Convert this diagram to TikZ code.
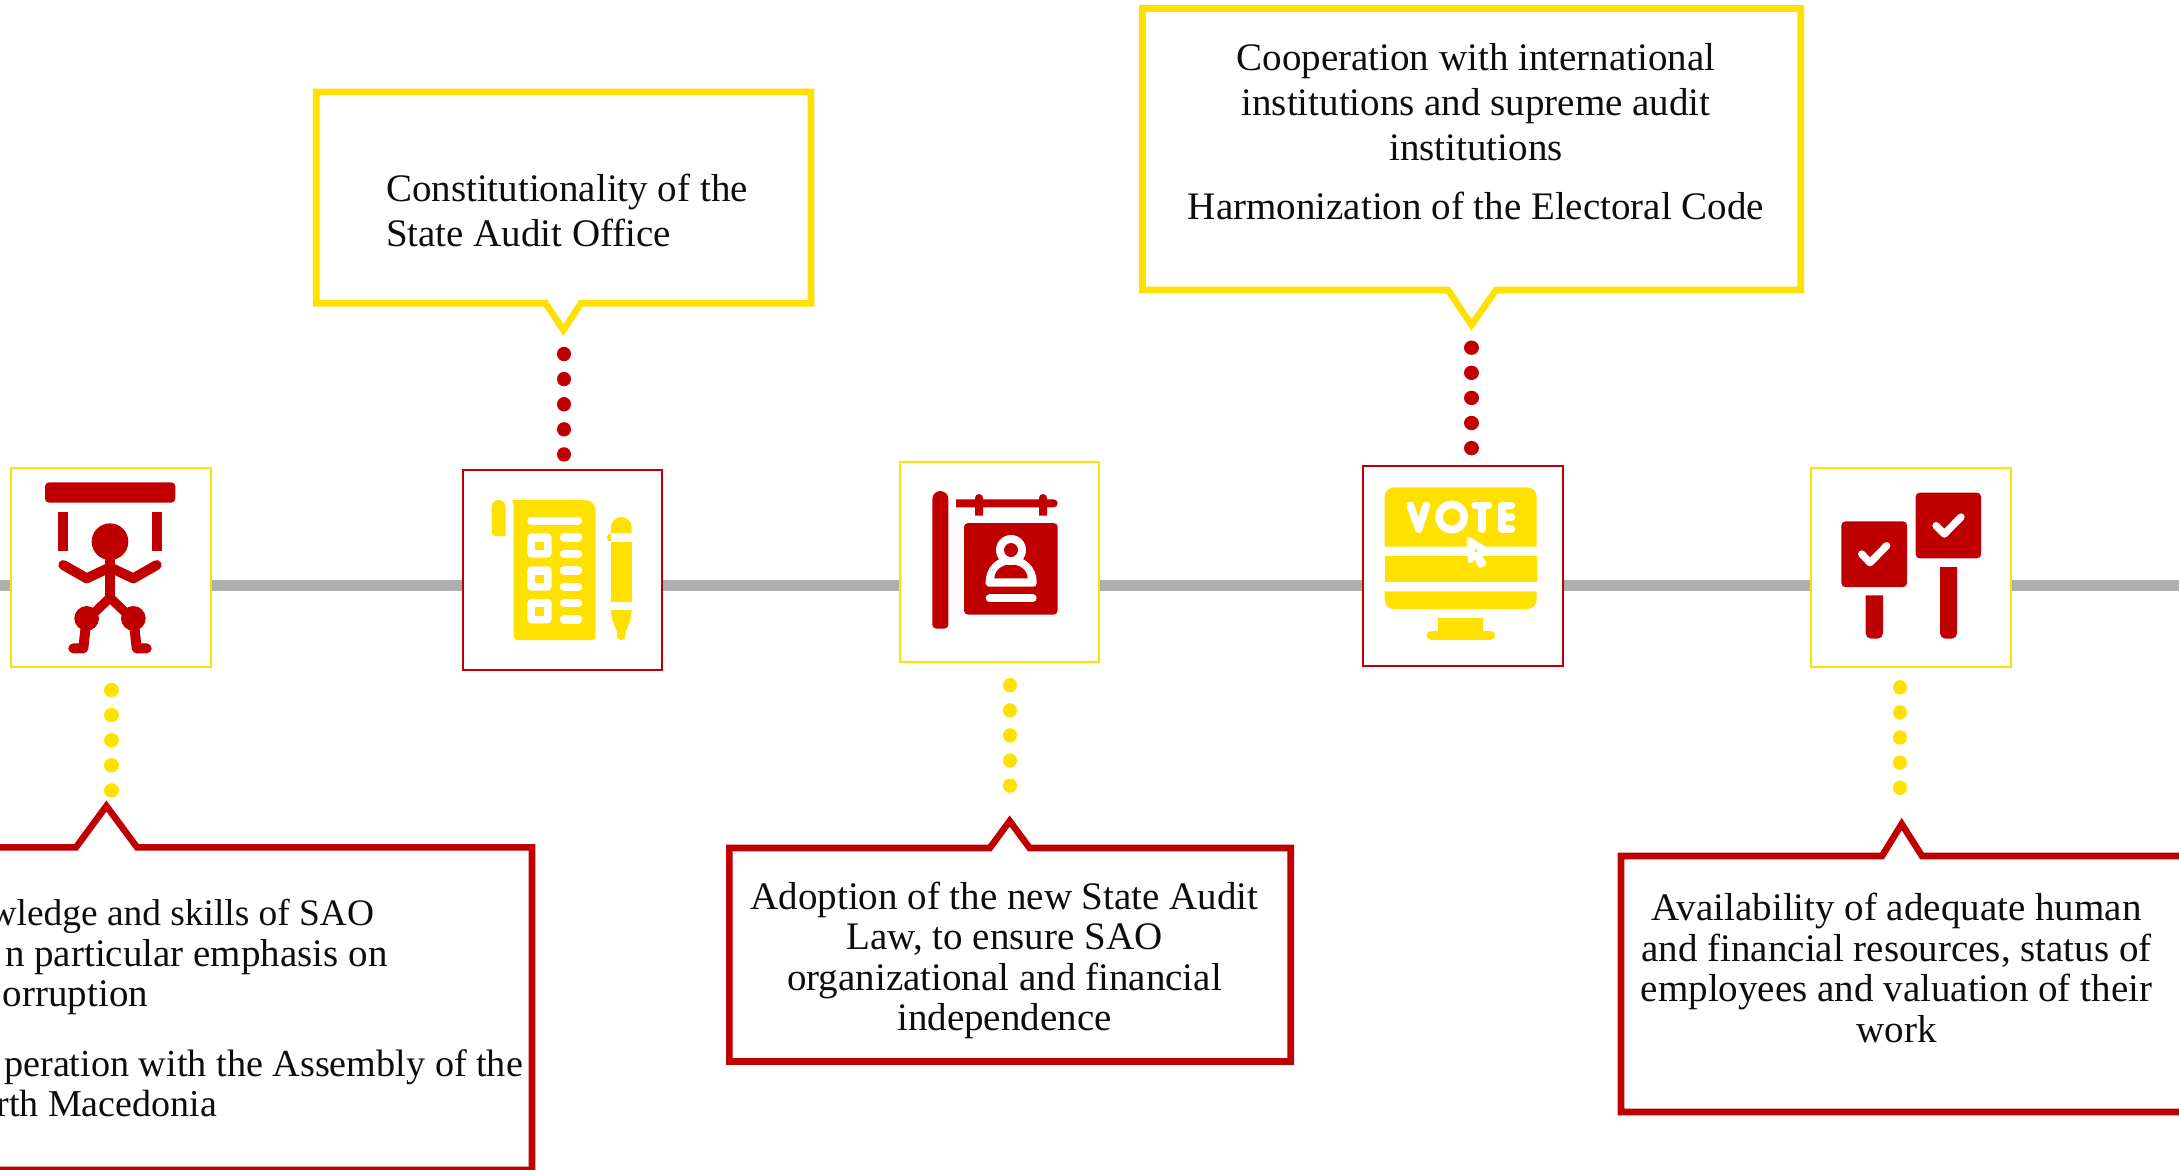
\documentclass[tikz,border=0pt]{standalone}
\usepackage{fontspec}
\setmainfont{Liberation Serif}
\definecolor{cred}{HTML}{C00000}
\definecolor{cyel}{HTML}{FFE100}
\definecolor{cgry}{HTML}{AFAFAF}
\definecolor{ctxt}{HTML}{0D0D0D}
\tikzset{
  iconbox/.style={draw=#1,line width=0.85pt,fill=white,minimum width=99.8pt,minimum height=99.8pt,inner sep=0pt,outer sep=0pt},
  calloutbox/.style={draw=#1,line width=3.3pt,fill=white,miter limit=10},
  dotline/.style={draw=#1,line width=7.2pt,line cap=round,dash pattern=on 0.01pt off 12.54pt},
  timeline/.style={draw=cgry,line width=5.35pt},
  txt/.style={text=ctxt,inner sep=0pt,outer sep=0pt,font=\fontsize{19.5}{20.25}\selectfont},
  icon/.style 2 args={shift={(#1,#2)},x=0.16667pt,y=-0.16667pt},
  zw/.style={line width=#1*0.16667pt},
}
\begin{document}
\begin{tikzpicture}[x=0.5pt,y=-0.5pt]
\useasboundingbox (0,0) rectangle (2179,1169);
\clip (0,0) rectangle (2179,1169);
\fill[white] (0,0) rectangle (2179,1169);
\coordinate (tl) at (-5,585.3);
\coordinate (tr) at (2185,585.3);
\draw[timeline] (tl) -- (tr);

% callouts
\path[calloutbox=cyel] (316.2,92) -- (811,92) -- (811,303.3) -- (581,303.3) -- (563.4,330) -- (545.5,303.3) -- (316.2,303.3) -- cycle;
\path[calloutbox=cyel] (1142.5,8.5) -- (1800.7,8.5) -- (1800.7,290) -- (1496,290) -- (1471.5,325) -- (1448,290) -- (1142.5,290) -- cycle;
\path[calloutbox=cred] (-20,847.3) -- (76,847.3) -- (106.4,806) -- (137,847.3) -- (532,847.3) -- (532,1170) -- (-20,1170) -- cycle;
\path[calloutbox=cred] (729.4,848) -- (989.8,848) -- (1009.7,821) -- (1029.6,848) -- (1290.7,848) -- (1290.7,1061.5) -- (729.4,1061.5) -- cycle;
\path[calloutbox=cred] (1621,856) -- (1882,856) -- (1901.7,824) -- (1922,856) -- (2200,856) -- (2200,1112) -- (1621,1112) -- cycle;

% icon boxes
\node[iconbox=cyel] (b1) at (111,567.5) {};
\node[iconbox=cred] (b2) at (562.5,570) {};
\node[iconbox=cyel] (b3) at (999.5,562) {};
\node[iconbox=cred] (b4) at (1463,566) {};
\node[iconbox=cyel] (b5) at (1911,567.5) {};

% dotted connectors
\coordinate (d1a) at (111.4,690); \coordinate (d1b) at (111.4,791);
\coordinate (d2a) at (564,354); \coordinate (d2b) at (564,455);
\coordinate (d3a) at (1010,685.2); \coordinate (d3b) at (1010,786.2);
\coordinate (d4a) at (1471.5,347.7); \coordinate (d4b) at (1471.5,448.7);
\coordinate (d5a) at (1900,687.3); \coordinate (d5b) at (1900,788.3);
\path[dotline=cyel] (d1a) -- (d1b);
\path[dotline=cred] (d2a) -- (d2b);
\path[dotline=cyel] (d3a) -- (d3b);
\path[dotline=cred] (d4a) -- (d4b);
\path[dotline=cyel] (d5a) -- (d5b);

% texts
\node[txt,anchor=base east,font=\fontsize{18.7}{20.25}\selectfont] (ta1) at (374,925) {wledge and skills of SAO};
\node[txt,anchor=base east] (ta2) at (387.5,966.3) {n particular emphasis on};
\node[txt,anchor=base east] (ta3) at (148,1006.7) {orruption};
\node[txt,anchor=base east,font=\fontsize{19.1}{20.25}\selectfont] (ta4) at (523,1076) {peration with the Assembly of the};
\node[txt,anchor=base east,font=\fontsize{19}{20.25}\selectfont] (ta5) at (217,1116) {rth Macedonia};
\node[txt,align=left,anchor=base west,font=\fontsize{19.5}{22.5}\selectfont] (tb) at (386,246) {Constitutionality of the\\State Audit Office};
\node[txt,align=center,anchor=base,font=\fontsize{19.5}{22.5}\selectfont] (tc) at (1476,219.8) {Cooperation with international\\institutions and supreme audit\\institutions\\[7.3pt]Harmonization of the Electoral Code};
\node[txt,align=center,anchor=base] (td) at (1004.5,1030.8) {Adoption of the new State Audit\\Law, to ensure SAO\\organizational and financial\\independence};
\node[txt,align=center,anchor=base] (te) at (1896.5,1042.2) {Availability of adequate human\\and financial resources, status of\\employees and valuation of their\\work};

% icon 1: puppet
\begin{scope}[icon={0}{450}]
\fill[cred,rounded corners=2pt] (135,97) rectangle (526,158);
\fill[cred] (175,187) rectangle (205,302);
\fill[cred] (456,187) rectangle (486,302);
\fill[cred] (330,275) circle[radius=55];
\draw[cred,zw=30,line cap=round,line join=round] (190,345) -- (260,385) -- (330,352) -- (400,385) -- (470,345);
\draw[cred,zw=28] (330,325) -- (330,440);
\draw[cred,zw=28,line join=miter] (260,510) -- (330,443) -- (400,510);
\fill[cred] (260,505) circle[radius=37];
\fill[cred] (400,505) circle[radius=37];
\draw[cred,zw=30,line cap=round,line join=round] (257,530) -- (250,595) -- (220,595);
\draw[cred,zw=30,line cap=round,line join=round] (403,530) -- (410,595) -- (440,595);
\end{scope}

% icon 2: checklist and pen
\begin{scope}[icon={450}{460}]
\fill[cyel] (125,141) arc[start angle=180,end angle=360,radius=21] -- (167,228) -- (135,228) arc[start angle=90,end angle=180,radius=10] -- cycle;
\fill[cyel] (187,120) -- (405,120) arc[start angle=270,end angle=360,radius=32] -- (437,530) arc[start angle=0,end angle=90,radius=10] -- (201,540) arc[start angle=90,end angle=180,radius=10] -- (191,135) -- cycle;
\draw[white,zw=24,line cap=round] (244,183) -- (384,183);
\foreach \yy in {220,319,417}{
  \fill[white,rounded corners=2pt] (232,\yy) rectangle (305,\yy+73);
  \fill[cyel] (255,\yy+25) rectangle (282,\yy+50);
}
\foreach \yy in {232,281,331,380,429,478}{
  \draw[white,zw=25,line cap=round] (342,\yy) -- (384,\yy);
}
\fill[cyel] (483,219) -- (483,202) arc[start angle=180,end angle=360,radius=31] -- (545,219) -- cycle;
\fill[cyel] (483,246) rectangle (545,426);
\fill[cyel] (483,220) arc[start angle=270,end angle=90,radius=12.5] -- cycle;
\fill[cyel] (483,450) -- (545,450) .. controls (545,480) and (532,500) .. (527,515) -- (527,527) arc[start angle=0,end angle=180,radius=13] -- (501,515) .. controls (496,500) and (483,480) .. (483,450) -- cycle;
\end{scope}

% icon 3: sign with person
\begin{scope}[icon={890}{450}]
\fill[cred] (127,147) arc[start angle=180,end angle=360,radius=24] -- (175,524) arc[start angle=0,end angle=90,radius=12] -- (139,536) arc[start angle=90,end angle=180,radius=12] -- cycle;
\fill[cred] (198,148) -- (491,148) arc[start angle=270,end angle=450,radius=12] -- (198,172) -- cycle;
\fill[cred] (255,144) arc[start angle=180,end angle=360,radius=12] -- (279,197) -- (255,197) -- cycle;
\fill[cred] (447,144) arc[start angle=180,end angle=360,radius=12] -- (471,197) -- (447,197) -- cycle;
\fill[cred,rounded corners=2pt] (222,219) rectangle (503,494);
\fill[white] (287,395) arc[start angle=180,end angle=360,radius=76.5] -- (440,400) arc[start angle=0,end angle=90,radius=10] -- (297,410) arc[start angle=90,end angle=180,radius=10] -- cycle;
\fill[cred] (313,385) arc[start angle=180,end angle=360,x radius=50,y radius=42] -- cycle;
\fill[white] (363,300) circle[radius=45];
\fill[cred] (363,300) circle[radius=21];
\draw[white,zw=24,line cap=round] (299,445) -- (428,445);
\end{scope}

% icon 4: vote monitor
\begin{scope}[icon={1350}{455}]
\fill[cyel] (104,275) -- (104,125) arc[start angle=180,end angle=270,radius=28] -- (532,97) arc[start angle=270,end angle=360,radius=28] -- (560,275) -- cycle;
\fill[cyel] (104,303) rectangle (560,381);
\fill[cyel] (104,409) -- (560,409) -- (560,434) arc[start angle=0,end angle=90,radius=28] -- (132,462) arc[start angle=90,end angle=180,radius=28] -- cycle;
\fill[cyel] (265,490) rectangle (399,530);
\draw[cyel,zw=27,line cap=round] (243.5,540.5) -- (421.5,540.5);
\begin{scope}[white,zw=23,line cap=round,line join=round]
\draw (181,151) -- (206,222) -- (229,151);
\draw (305,186) circle[radius=38];
\draw (375,151) -- (415,151) (395,151) -- (395,222);
\draw (484,151) -- (455,151) -- (455,222) -- (484,222) (455,186) -- (484,186);
\end{scope}
\filldraw[white,zw=14,line join=round] (357,253) -- (406,282) -- (384,294) -- (402,326) -- (391,331) -- (373,301) -- (361,318) -- cycle;
\fill[cyel] (376,282) rectangle (382,291);
\end{scope}

% icon 5: two check signs
\begin{scope}[icon={1800}{460}]
\fill[cred,rounded corners=2pt] (124,184) rectangle (321,381);
\fill[cred] (197,406) -- (249,406) -- (249,520) arc[start angle=0,end angle=90,radius=16] -- (213,536) arc[start angle=90,end angle=180,radius=16] -- cycle;
\fill[cred,rounded corners=2pt] (347,98) rectangle (543,295);
\fill[cred] (420,321) -- (471,321) -- (471,520) arc[start angle=0,end angle=90,radius=16] -- (436,536) arc[start angle=90,end angle=180,radius=16] -- cycle;
\draw[white,zw=22,line cap=round,line join=round] (185,282) -- (210,308) -- (260,257);
\draw[white,zw=22,line cap=round,line join=round] (408,197) -- (433,222) -- (483,171);
\end{scope}
\end{tikzpicture}
\end{document}
